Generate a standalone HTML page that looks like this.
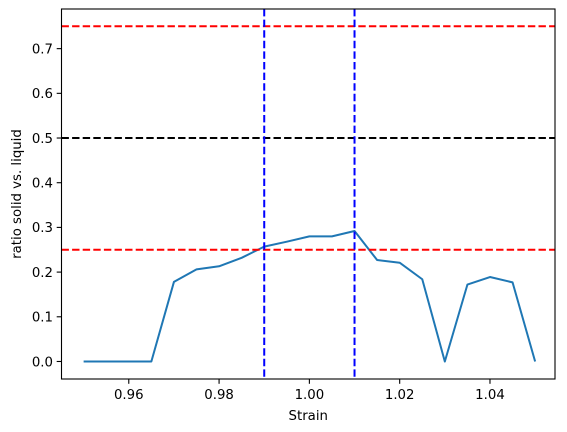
<!DOCTYPE html>
<html><head><meta charset="utf-8"><style>
body{margin:0;background:#fff;}
svg{display:block;font-family:"DejaVu Sans","Liberation Sans",sans-serif;}
</style></head><body>
<svg id="chart" width="567" height="432"></svg>
<script>
const xValues=[0.95,0.955,0.96,0.965,0.97,0.975,0.98,0.985,0.99,0.995,1.0,1.005,1.01,1.015,1.02,1.025,1.03,1.035,1.04,1.045,1.05];
const ratioValues=[0,0,0,0,0.178,0.206,0.213,0.232,0.257,0.268,0.280,0.280,0.292,0.227,0.221,0.184,0,0.172,0.189,0.177,0];
const xTicks=[0.96,0.98,1.00,1.02,1.04];
const xTickLabels=["0.96","0.98","1.00","1.02","1.04"];
const yTicks=[0,0.1,0.2,0.3,0.4,0.5,0.6,0.7];
const yTickLabels=["0.0","0.1","0.2","0.3","0.4","0.5","0.6","0.7"];
const hLines=[0.75,0.5,0.25];
const hColors=["#ff0000","#000000","#ff0000"];
const vLines=[0.99,1.01];

const L=61.5,R=555,T=9,B=379;
const xMin=0.9451,xMax=1.0544,yMin=-0.0392,yMax=0.7887;
const sx=v=>L+(v-xMin)/(xMax-xMin)*(R-L);
const sy=v=>B-(v-yMin)/(yMax-yMin)*(B-T);
const svg=document.getElementById('chart');
const NS='http://www.w3.org/2000/svg';
function mk(tag,attrs,parent){const e=document.createElementNS(NS,tag);for(const k in attrs)e.setAttribute(k,attrs[k]);(parent||svg).appendChild(e);return e;}

xTicks.forEach((t,i)=>{
  const tk=mk('line',{x1:sx(t),x2:sx(t),y1:B,y2:B+4.8,stroke:'#000','stroke-width':1.1});
  
  
  const tx=mk('text',{x:sx(t),y:B+20,'text-anchor':'middle','font-size':13.3});
  tx.textContent=xTickLabels[i];
  
  
});
yTicks.forEach((t,i)=>{
  const tk=mk('line',{x1:L-4.8,x2:L,y1:sy(t),y2:sy(t),stroke:'#000','stroke-width':1.1});
  
  
  const tx=mk('text',{x:L-8.5,y:sy(t)+4.8,'text-anchor':'end','font-size':13.3});
  tx.textContent=yTickLabels[i];
  
  
});

const pts=xValues.map((x,i)=>sx(x)+','+sy(ratioValues[i])).join(' ');
const line=mk('polyline',{points:pts,fill:'none',stroke:'#1f77b4','stroke-width':2,'stroke-linejoin':'round'});



hLines.forEach((v,i)=>{
  const l=mk('line',{x1:L,x2:R,y1:sy(v),y2:sy(v),stroke:hColors[i],'stroke-width':2,'stroke-dasharray':'7.4,3.2'});
  
  
});
vLines.forEach(v=>{
  const l=mk('line',{x1:sx(v),x2:sx(v),y1:T,y2:B,stroke:'#0000ff','stroke-width':2,'stroke-dasharray':'7.4,3.2'});
  
  
});

const frame=mk('rect',{x:L,y:T,width:R-L,height:B-T,fill:'none',stroke:'#000','stroke-width':1.1});



const xl=mk('text',{x:(L+R)/2,y:420,'text-anchor':'middle','font-size':13.3});
xl.textContent='Strain';


const yl=mk('text',{x:0,y:0,'text-anchor':'middle','font-size':13.3,transform:'translate(21,'+((T+B)/2)+') rotate(-90)'});
yl.textContent='ratio solid vs. liquid';


</script>
</body></html>
